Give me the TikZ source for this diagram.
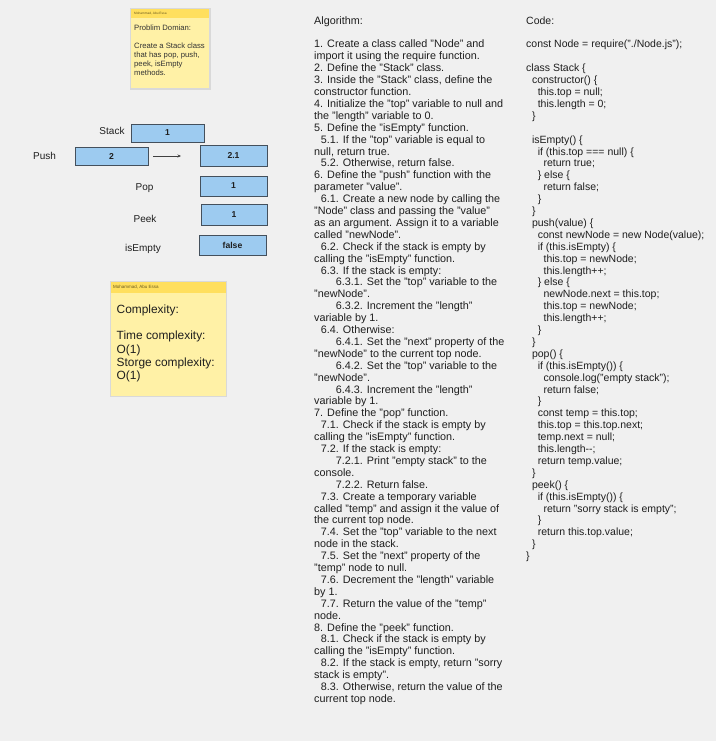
\documentclass[tikz,border=0pt]{standalone}
\usepackage{fontspec}
\setmainfont{Liberation Sans}
\usetikzlibrary{arrows.meta}
\definecolor{bg}{HTML}{F0F0F0}
\definecolor{stickyhead}{HTML}{FFDF5E}
\definecolor{stickybody}{HTML}{FFF1A6}
\definecolor{stickyshadow}{HTML}{D9D9D9}
\definecolor{boxfill}{HTML}{9DCBF0}
\definecolor{boxline}{HTML}{44505C}
\definecolor{txt}{HTML}{1E1E1E}
\definecolor{headtxt}{HTML}{6A5A20}
\newcommand\lvA{\hspace*{6.7pt}}
\newcommand\lvB{\hspace*{21.7pt}}
\newcommand\cdA{\hspace*{5.8pt}}
\newcommand\cdB{\hspace*{11.6pt}}
\newcommand\cdC{\hspace*{17.4pt}}
\begin{document}
\begin{tikzpicture}[x=1pt,y=-1pt,
  valbox/.style={draw=boxline, line width=0.9pt, fill=boxfill, inner sep=0pt,
    font=\fontsize{8.6}{9}\selectfont\bfseries, text=txt},
  lbl/.style={anchor=base, inner sep=0pt, font=\fontsize{10}{12}\selectfont, text=txt},
  block/.style={anchor=north west, inner sep=0pt, align=left, text=txt},
  headlbl/.style={anchor=west, inner sep=0pt, text=headtxt}]
% background
\fill[bg] (0,0) rectangle (716,741);
\useasboundingbox (0,0) rectangle (716,741);

% sticky note 1
\fill[stickyshadow] (130,8) rectangle (211,90);
\fill[stickybody] (131,9) rectangle (209,88);
\fill[stickyhead] (131,9) rectangle (209,18.5);
\node[headlbl, font=\fontsize{3.2}{4}\selectfont] (h1) at (134,14) {Mohammad, Abu Essa};
\node[block, font=\fontsize{7.7}{8.9}\selectfont, text=black!80] (n1) at (134,24.8)
  {\rule{0pt}{6pt}Problim Domian:\\ \mbox{}\\ Create a Stack class\\ that has pop, push,\\ peek, isEmpty\\ methods.};

% sticky note 2
\fill[stickyshadow] (110,281) rectangle (227,397);
\fill[stickybody] (111,282) rectangle (225.5,395.5);
\fill[stickyhead] (111,282) rectangle (225.5,292.5);
\node[headlbl, font=\fontsize{4.5}{5}\selectfont] (h2) at (113,287.5) {Mohammad, Abu Essa};
\node[block, font=\fontsize{11.9}{13.2}\selectfont] (c1) at (116.5,304.3)
  {\rule{0pt}{9pt}Complexity:\\ \mbox{}\\ Time complexity:\\ O(1)\\ Storge complexity:\\ O(1)};

% stack diagram
\node[lbl] (lstack) at (112,134.6) {Stack};
\node[lbl] (lpush) at (44.5,159.6) {Push};
\node[lbl] (lpop) at (144.5,190.6) {Pop};
\node[lbl] (lpeek) at (145,222.6) {Peek};
\node[lbl] (lempty) at (143,251.6) {isEmpty};

\node[valbox, minimum width=73pt, minimum height=18pt] (bstack) at (167.5,133) {1};
\node[valbox, minimum width=73pt, minimum height=18pt] (bpush) at (111.5,156) {2};
\node[valbox, minimum width=67pt, minimum height=21pt] (bres) at (233.5,155.5) {2.1};
\node[valbox, minimum width=67pt, minimum height=20pt] (bpop) at (233.5,186) {1};
\node[valbox, minimum width=66pt, minimum height=21pt] (bpeek) at (234,214.5) {1};
\node[valbox, minimum width=67pt, minimum height=20pt] (bempty) at (232.5,245) {false};

\coordinate (arrS) at (153,156);
\coordinate (arrE) at (181,156);
\draw[draw=black!75, line width=0.7pt, -{Stealth[length=3.5pt,width=3pt]}] (arrS) -- (arrE);

% algorithm
\node[block, font=\fontsize{10.8}{11.9}\selectfont] (alg) at (314,15.9)
{\rule{0pt}{8pt}Algorithm:\\
\mbox{}\\
1. Create a class called "Node" and\\
import it using the require function.\\
2. Define the "Stack" class.\\
3. Inside the "Stack" class, define the\\
constructor function.\\
4. Initialize the "top" variable to null and\\
the "length" variable to 0.\\
5. Define the "isEmpty" function.\\
\lvA 5.1. If the "top" variable is equal to\\
null, return true.\\
\lvA 5.2. Otherwise, return false.\\
6. Define the "push" function with the\\
parameter "value".\\
\lvA 6.1. Create a new node by calling the\\
"Node" class and passing the "value"\\
as an argument. Assign it to a variable\\
called "newNode".\\
\lvA 6.2. Check if the stack is empty by\\
calling the "isEmpty" function.\\
\lvA 6.3. If the stack is empty:\\
\lvB 6.3.1. Set the "top" variable to the\\
"newNode".\\
\lvB 6.3.2. Increment the "length"\\
variable by 1.\\
\lvA 6.4. Otherwise:\\
\lvB 6.4.1. Set the "next" property of the\\
"newNode" to the current top node.\\
\lvB 6.4.2. Set the "top" variable to the\\
"newNode".\\
\lvB 6.4.3. Increment the "length"\\
variable by 1.\\
7. Define the "pop" function.\\
\lvA 7.1. Check if the stack is empty by\\
calling the "isEmpty" function.\\
\lvA 7.2. If the stack is empty:\\
\lvB 7.2.1. Print "empty stack" to the\\
console.\\
\lvB 7.2.2. Return false.\\
\lvA 7.3. Create a temporary variable\\
called "temp" and assign it the value of\\
the current top node.\\
\lvA 7.4. Set the "top" variable to the next\\
node in the stack.\\
\lvA 7.5. Set the "next" property of the\\
"temp" node to null.\\
\lvA 7.6. Decrement the "length" variable\\
by 1.\\
\lvA 7.7. Return the value of the "temp"\\
node.\\
8. Define the "peek" function.\\
\lvA 8.1. Check if the stack is empty by\\
calling the "isEmpty" function.\\
\lvA 8.2. If the stack is empty, return "sorry\\
stack is empty".\\
\lvA 8.3. Otherwise, return the value of the\\
current top node.};

% code
\node[block, font=\fontsize{10.5}{11.9}\selectfont] (code) at (526,15.9)
{\rule{0pt}{8pt}Code:\\
\mbox{}\\
const Node = require("./Node.js");\\
\mbox{}\\
class Stack \{\\
\cdA constructor() \{\\
\cdB this.top = null;\\
\cdB this.length = 0;\\
\cdA \}\\
\mbox{}\\
\cdA isEmpty() \{\\
\cdB if (this.top === null) \{\\
\cdC return true;\\
\cdB \} else \{\\
\cdC return false;\\
\cdB \}\\
\cdA \}\\
\cdA push(value) \{\\
\cdB const newNode = new Node(value);\\
\cdB if (this.isEmpty) \{\\
\cdC this.top = newNode;\\
\cdC this.length++;\\
\cdB \} else \{\\
\cdC newNode.next = this.top;\\
\cdC this.top = newNode;\\
\cdC this.length++;\\
\cdB \}\\
\cdA \}\\
\cdA pop() \{\\
\cdB if (this.isEmpty()) \{\\
\cdC console.log("empty stack");\\
\cdC return false;\\
\cdB \}\\
\cdB const temp = this.top;\\
\cdB this.top = this.top.next;\\
\cdB temp.next = null;\\
\cdB this.length\mbox{-}\mbox{-};\\
\cdB return temp.value;\\
\cdA \}\\
\cdA peek() \{\\
\cdB if (this.isEmpty()) \{\\
\cdC return "sorry stack is empty";\\
\cdB \}\\
\cdB return this.top.value;\\
\cdA \}\\
\}};
\end{tikzpicture}
\end{document}
